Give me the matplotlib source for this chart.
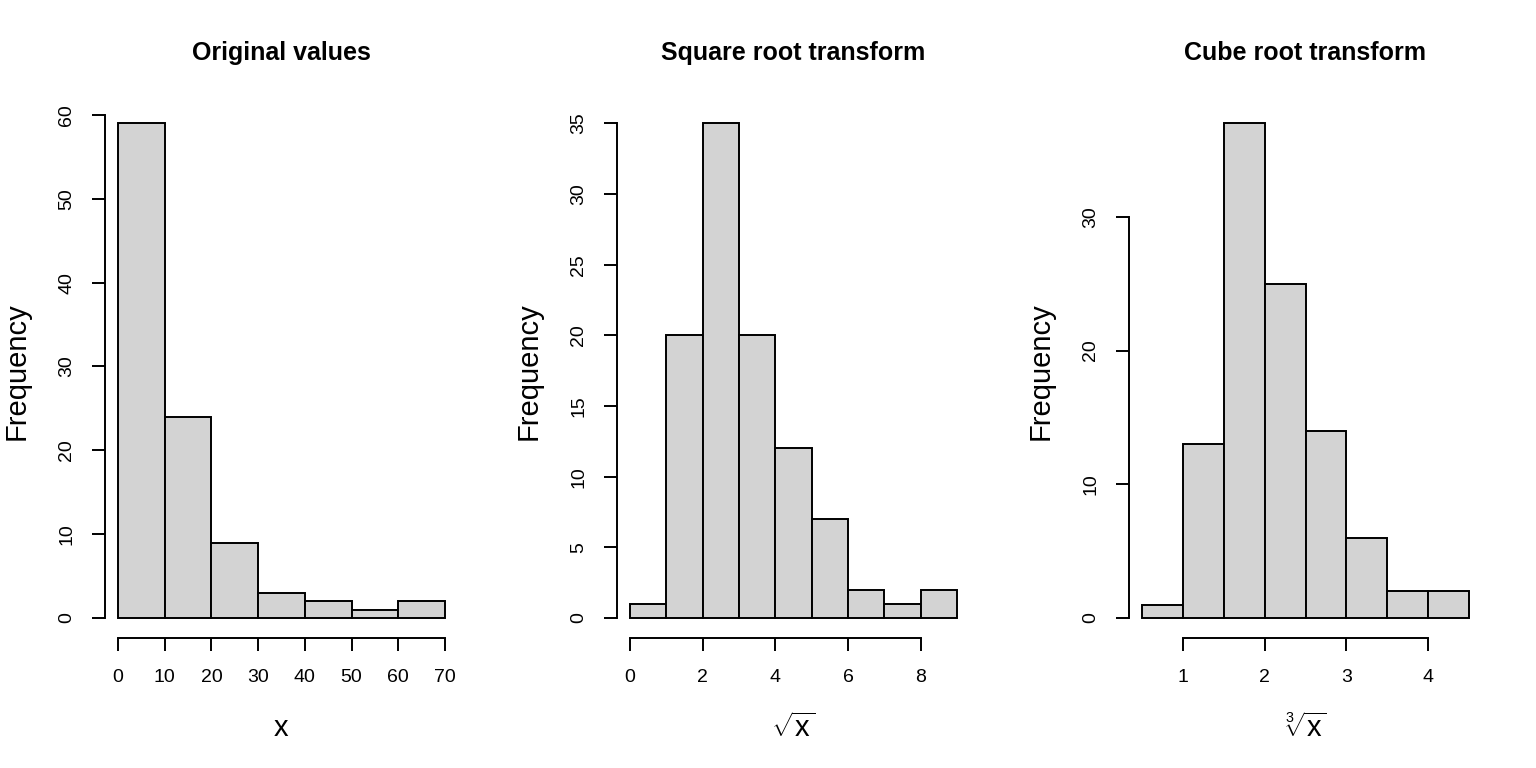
import matplotlib
matplotlib.use("Agg")
import matplotlib.pyplot as plt
import numpy as np

plt.rcParams['font.family'] = ['Liberation Sans', 'DejaVu Sans']
plt.rcParams['mathtext.fontset'] = 'custom'
plt.rcParams['mathtext.rm'] = 'Liberation Sans'
plt.rcParams['mathtext.it'] = 'Liberation Sans'

# Data
orig_edges = [0, 10, 20, 30, 40, 50, 60, 70]
orig_counts = [59, 24, 9, 3, 2, 1, 2]
sqrt_edges = [0, 1, 2, 3, 4, 5, 6, 7, 8, 9]
sqrt_counts = [1, 20, 35, 20, 12, 7, 2, 1, 2]
cbrt_edges = [0.5, 1.0, 1.5, 2.0, 2.5, 3.0, 3.5, 4.0, 4.5]
cbrt_counts = [1, 13, 37, 25, 14, 6, 2, 2]

titles = ["Original values", "Square root transform", "Cube root transform"]
xlabels = [r"$\mathrm{x}$", r"$\sqrt{\mathrm{x}}$", r"$\sqrt[3]{\mathrm{x}}$"]
xticks_list = [[0, 10, 20, 30, 40, 50, 60, 70], [0, 2, 4, 6, 8], [1, 2, 3, 4]]
yticks_list = [[0, 10, 20, 30, 40, 50, 60], [0, 5, 10, 15, 20, 25, 30, 35], [0, 10, 20, 30]]

W, H = 1536, 768
fig = plt.figure(figsize=(W / 100, H / 100), dpi=100)

lefts = [105, 617, 1129]
right_w = 353
top, bottom = 103.5, 637.8

data = [(orig_edges, orig_counts), (sqrt_edges, sqrt_counts), (cbrt_edges, cbrt_counts)]
lw = 1.4
for i, (edges, counts) in enumerate(data):
    ax = fig.add_axes([lefts[i] / W, 1 - bottom / H, right_w / W, (bottom - top) / H])
    edges = np.array(edges, dtype=float)
    widths = np.diff(edges)
    ax.bar(edges[:-1], counts, width=widths, align='edge', color='#D3D3D3',
           edgecolor='black', linewidth=lw)
    x0, x1 = edges[0], edges[-1]
    pad = 0.04 * (x1 - x0)
    ax.set_xlim(x0 - pad, x1 + pad)
    ymax = max(counts)
    ax.set_ylim(-0.04 * ymax, 1.04 * ymax)
    for s in ['top', 'right']:
        ax.spines[s].set_visible(False)
    xt = xticks_list[i]
    yt = yticks_list[i]
    ax.spines['bottom'].set_bounds(xt[0], xt[-1])
    ax.spines['left'].set_bounds(yt[0], yt[-1])
    for s in ['bottom', 'left']:
        ax.spines[s].set_linewidth(lw)
    ax.set_xticks(xt)
    ax.set_yticks(yt)
    ax.set_xticklabels([str(v) for v in xt])
    ax.set_yticklabels([str(v) for v in yt], rotation=90, va='center')
    ax.tick_params(axis='both', direction='out', length=9.4, width=lw,
                   labelsize=14, pad=12)
    ax.tick_params(axis='x', pad=13)
    ax.set_title(titles[i], fontsize=18, fontweight='bold', pad=0, y=1.0)
    ax.title.set_position((0.5, (H - 53) / H))
    ax.set_xlabel(xlabels[i], fontsize=21)
    ax.set_ylabel("Frequency", fontsize=21)
    ax.xaxis.set_label_coords(0.5, -(728 - bottom) / (bottom - top) - 0.0, transform=ax.transAxes)
    ax.yaxis.set_label_coords(-(lefts[i] - (lefts[i] - 88)) / right_w, 0.5, transform=ax.transAxes)
    ax.title.set_transform(fig.transFigure)
    ax.title.set_va('center')
    ax.title.set_position(((lefts[i] + right_w / 2) / W, (H - 53) / H))
    ax.xaxis.label.set_va('center')
    ax.yaxis.label.set_va('center')

fig.savefig("out.png", dpi=100)
